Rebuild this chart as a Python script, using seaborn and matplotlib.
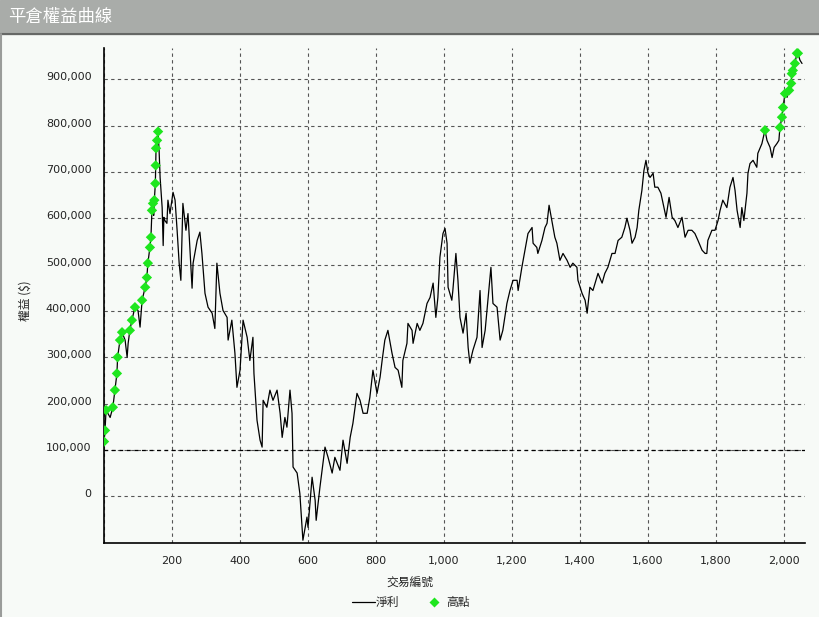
import numpy as np
import pandas as pd
import seaborn as sns
import matplotlib.pyplot as plt
import matplotlib.transforms as mtransforms
from matplotlib.patches import Rectangle
from matplotlib.lines import Line2D

# trade number / closed equity (thousands)
trade_no = [0, 3, 6, 18, 26, 32, 38, 40, 47, 53, 62, 68, 71, 76, 82, 91, 100, 106, 112, 121,
            126, 129, 135, 138, 141, 144, 146, 148, 151, 152, 153, 155, 156, 159, 162, 165, 171, 174, 176, 179,
            185, 188, 194, 203, 209, 215, 221, 226, 232, 241, 247, 253, 259, 262, 274, 282, 288, 297, 306, 318,
            326, 332, 341, 350, 362, 365, 376, 385, 391, 400, 409, 421, 429, 438, 441, 450, 459, 465, 468, 479,
            488, 497, 509, 518, 524, 532, 538, 547, 553, 556, 568, 576, 585, 597, 600, 612, 621, 624, 635, 644,
            650, 659, 671, 679, 694, 703, 715, 724, 732, 744, 753, 762, 774, 782, 791, 803, 812, 818, 826, 835,
            847, 856, 865, 876, 879, 891, 894, 906, 909, 921, 929, 938, 950, 959, 968, 976, 982, 988, 997, 1003,
            1009, 1012, 1023, 1026, 1035, 1041, 1047, 1056, 1065, 1071, 1076, 1085, 1097, 1106, 1112, 1121, 1129, 1138, 1144, 1156,
            1165, 1173, 1185, 1194, 1203, 1215, 1218, 1229, 1238, 1247, 1259, 1262, 1273, 1276, 1288, 1297, 1303, 1309, 1321, 1326,
            1332, 1341, 1350, 1362, 1371, 1379, 1391, 1394, 1406, 1415, 1421, 1429, 1438, 1453, 1465, 1473, 1482, 1494, 1503, 1512,
            1523, 1532, 1538, 1547, 1553, 1562, 1568, 1573, 1582, 1588, 1594, 1600, 1606, 1615, 1620, 1629, 1638, 1647, 1653, 1662,
            1671, 1679, 1688, 1700, 1709, 1718, 1729, 1738, 1747, 1759, 1768, 1773, 1776, 1788, 1797, 1806, 1812, 1820, 1832, 1841,
            1850, 1856, 1862, 1871, 1876, 1882, 1891, 1894, 1900, 1909, 1920, 1923, 1935, 1944, 1950, 1959, 1965, 1971, 1979, 1985,
            1988, 1994, 1997, 2003, 2009, 2015, 2021, 2023, 2026, 2032, 2038, 2041, 2047, 2053]
equity_k = [118, 142, 186, 170, 192, 229, 265, 300, 337, 354, 337, 300, 330, 358, 380, 408, 401, 365, 423, 451,
            472, 503, 537, 559, 617, 632, 606, 639, 675, 714, 751, 746, 768, 787, 746, 688, 623, 541, 602, 595,
            589, 639, 610, 656, 639, 574, 503, 466, 632, 574, 610, 531, 449, 503, 552, 570, 524, 438, 408, 395,
            362, 503, 438, 401, 386, 337, 380, 309, 235, 272, 380, 343, 293, 343, 265, 164, 121, 106, 207, 192,
            229, 207, 229, 179, 127, 170, 149, 229, 179, 63, 50, 6, -95, -45, -67, 41, -9, -52, 19, 71,
            106, 84, 50, 84, 56, 121, 71, 127, 157, 222, 207, 179, 179, 214, 272, 222, 257, 293, 337, 358,
            309, 278, 272, 235, 293, 330, 373, 358, 330, 373, 358, 373, 416, 429, 460, 386, 429, 516, 567, 578,
            546, 451, 423, 444, 524, 466, 386, 352, 395, 321, 287, 315, 343, 444, 321, 358, 423, 494, 416, 408,
            337, 358, 416, 444, 466, 466, 444, 494, 531, 567, 580, 546, 537, 524, 552, 580, 589, 628, 580, 559,
            546, 509, 524, 509, 494, 503, 494, 466, 438, 423, 395, 451, 444, 481, 460, 481, 494, 524, 524, 552,
            559, 580, 600, 574, 546, 559, 580, 617, 660, 703, 725, 697, 688, 697, 667, 667, 654, 623, 602, 645,
            602, 595, 580, 602, 559, 574, 574, 567, 552, 531, 524, 524, 552, 574, 574, 595, 617, 639, 623, 667,
            688, 660, 617, 580, 623, 595, 654, 697, 718, 725, 710, 740, 761, 790, 768, 753, 731, 753, 761, 768,
            796, 818, 839, 869, 861, 876, 891, 912, 919, 934, 956, 956, 941, 934]

x_ticks = list(range(0, 2001, 200))
y_ticks = list(range(0, 900001, 100000))

bg = '#f7faf7'
green = '#1ee61e'
cjk = ['Noto Sans CJK TC', 'DejaVu Sans']

sns.set_style('white')
plt.rcParams['font.family'] = ['DejaVu Sans']

df = pd.DataFrame({'trade': trade_no, 'equity': np.array(equity_k) * 1000})
highs = df[df['equity'] >= df['equity'].cummax()]

fig = plt.figure(figsize=(8.19, 6.17), dpi=100, facecolor=bg)
ax = fig.add_axes([0.127, 0.1199, 0.856, 0.802])
ax.set_facecolor(bg)

sns.lineplot(data=df, x='trade', y='equity', color='black', lw=0.9,
             estimator=None, sort=False, ax=ax, legend=False)
sns.scatterplot(data=highs, x='trade', y='equity', marker='D', color=green,
                s=28, edgecolor='none', ax=ax, zorder=3, legend=False)

ax.set_xlim(0, 2062)
ax.set_ylim(-101000, 967000)
ax.set_xticks(x_ticks)
ax.set_xticklabels(['' if v == 0 else f'{v:,}' for v in x_ticks])
ax.set_yticks(y_ticks)
ax.set_yticklabels([f'{v:,}' for v in y_ticks])

ax.grid(True, ls=(0, (3, 3)), color='#555555', lw=0.8)
ax.axhline(100000, color='black', ls=(0, (3, 3)), lw=0.9, zorder=1)
for s in ['top', 'right']:
    ax.spines[s].set_visible(False)
for s in ['left', 'bottom']:
    ax.spines[s].set_color('black')
    ax.spines[s].set_linewidth(1.2)
ax.tick_params(direction='out', length=5, width=1, colors='black',
               labelcolor='#222222', labelsize=8, pad=4)
offset = mtransforms.ScaledTranslation(0, 3 / 100, fig.dpi_scale_trans)
for lbl in ax.get_yticklabels():
    lbl.set_transform(lbl.get_transform() + offset)

ax.set_ylabel('權益 ($)', family=cjk, fontsize=8.5, color='#222222')
ax.yaxis.set_label_coords(-0.104, 0.49)
ax.set_xlabel('交易編號', family=cjk, fontsize=8.5, color='#222222')
ax.xaxis.set_label_coords(0.437, -0.066)

handles = [Line2D([], [], color='black', lw=0.9),
           Line2D([], [], marker='D', ls='none', color=green, markersize=5, mec='none')]
fig.legend(handles, ['淨利', '高點'], loc='center', bbox_to_anchor=(0.502, 0.024), ncol=2,
           frameon=False, prop={'family': cjk, 'size': 8.5}, handlelength=1.9,
           handletextpad=0.1, columnspacing=2.0)

# header bar
bar_h = 34 / 617
fig.patches.append(Rectangle((0, 1 - bar_h), 1, bar_h, transform=fig.transFigure,
                             color='#a9aca9', zorder=0))
fig.lines.append(Line2D([0, 1], [1 - bar_h, 1 - bar_h], transform=fig.transFigure,
                        color='#666866', lw=1.5))
fig.lines.append(Line2D([0.001, 0.001], [0, 1 - bar_h], transform=fig.transFigure,
                        color='#9a9c9a', lw=1.5))
fig.text(8 / 819, 1 - 17 / 617, '平倉權益曲線', color='white', fontsize=12.5,
         family=cjk, va='center', ha='left')

fig.savefig('out.png', dpi=100, facecolor=bg)
